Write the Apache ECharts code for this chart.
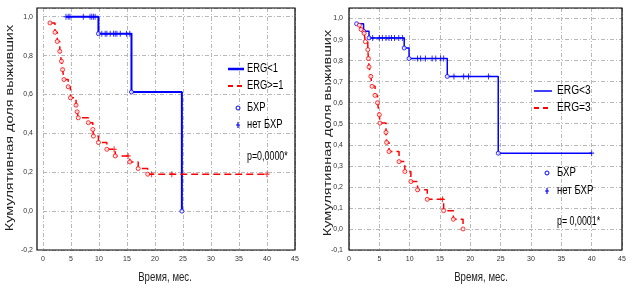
<!DOCTYPE html>
<html>
<head>
<meta charset="utf-8">
<script src="https://cdn.jsdelivr.net/npm/echarts@6/dist/echarts.min.js"></script>
<style>html,body{margin:0;padding:0;background:#fff}#c{width:631px;height:293px}</style>
</head>
<body>
<div id="c"></div>
<script>
// ---------- DATA ----------
// Left panel: ERG<1 (blue)
const leftBlueStart = [4.1, 1.0];
const leftBlueEventTimes = [9.9, 15.8, 24.8];
const leftBlueEventSurv  = [0.913, 0.613, 0.0];
const leftBlueCensTimes  = [4.1, 4.5, 4.8, 7.2, 8.4, 8.7, 9.0, 9.3, 10.5, 11.1, 11.4, 12.0, 12.6, 12.9, 13.2, 13.8, 14.9, 15.5];
const leftBlueCensSurv   = [1.0, 1.0, 1.0, 1.0, 1.0, 1.0, 1.0, 1.0, 0.913, 0.913, 0.913, 0.913, 0.913, 0.913, 0.913, 0.913, 0.913, 0.913];

// Left panel: ERG>=1 (red)
const leftRedEventTimes = [1.25, 2.14, 2.55, 3.0, 3.3, 3.5, 3.75, 4.5, 4.9, 5.9, 6.1, 6.3, 8.1, 8.9, 9.0, 9.9, 11.4, 12.9, 15.5, 17.0, 18.7];
const leftRedEventSurv  = [0.968, 0.92, 0.873, 0.822, 0.771, 0.728, 0.677, 0.64, 0.583, 0.545, 0.511, 0.48, 0.455, 0.42, 0.386, 0.353, 0.318, 0.284, 0.253, 0.219, 0.19];
const leftRedEnd = [40, 0.19];
const leftRedCensTimes = [12.7, 15.2, 19.4, 23.0, 40];
const leftRedCensSurv  = [0.318, 0.284, 0.19, 0.19, 0.19];

// Right panel: ERG<3 (blue)
const rightBlueEventTimes = [1.26, 2.4, 3.3, 9.1, 9.9, 16.2, 24.6];
const rightBlueEventSurv  = [0.975, 0.94, 0.908, 0.86, 0.81, 0.725, 0.36];
const rightBlueEnd = [40, 0.36];
const rightBlueCensTimes = [3.9, 5.0, 5.5, 6.1, 6.6, 7.0, 7.5, 8.2, 8.8, 11.3, 11.8, 12.6, 13.7, 14.3, 15.1, 15.6, 17.3, 18.9, 19.7, 23.0, 40];
const rightBlueCensSurv  = [0.908, 0.908, 0.908, 0.908, 0.908, 0.908, 0.908, 0.908, 0.908, 0.81, 0.81, 0.81, 0.81, 0.81, 0.81, 0.81, 0.725, 0.725, 0.725, 0.725, 0.36];

// Right panel: ERG=3 (red)
const rightRedEventTimes = [1.7, 2.0, 2.5, 2.7, 3.1, 3.2, 3.3, 3.6, 3.8, 4.3, 4.7, 5.0, 5.1, 6.1, 6.2, 6.6, 8.25, 9.2, 10.2, 11.3, 12.9, 15.6, 17.2, 18.8];
const rightRedEventSurv  = [0.968, 0.948, 0.93, 0.89, 0.852, 0.81, 0.77, 0.725, 0.678, 0.635, 0.6, 0.543, 0.503, 0.459, 0.411, 0.368, 0.32, 0.273, 0.225, 0.186, 0.141, 0.087, 0.046, 0.0];
const rightRedCensTimes = [15.4];
const rightRedCensSurv  = [0.141];

const legendLeft  = ['ERG<1', 'ERG>=1', 'БХР', 'нет БХР'];
const legendRight = ['ERG<3', 'ERG=3', 'БХР', 'нет БХР'];
const pLeft = 'p=0,0000*';
const pRight = 'p= 0,0001*';
const yTitle = 'Кумулятивная доля выживших';
const xTitle = 'Время, мес.';

// ---------- BUILD ----------
const zip = (a, b) => a.map((v, i) => [v, b[i]]);
const BLUE = '#0000ff', RED = '#ff0000';
const PLUS = 'path://M4,0H6V4H10V6H6V10H4V6H0V4H4Z';
const comma = v => v.toFixed(1).replace('.', ',');

function gridAxes(idx, left, width, xmin, ymin, ymax, yint) {
  return {
    grid: {left: left, top: 8, width: width, height: 242, show: false},
    x: {
      gridIndex: idx, type: 'value', min: xmin, max: 45, interval: 5,
      axisLine: {show: false}, axisTick: {show: false},
      axisLabel: {fontSize: 7, color: '#333', fontFamily: 'Liberation Sans', margin: 6,
        showMaxLabel: true, showMinLabel: true},
      splitLine: {show: true, lineStyle: {color: '#b8b8b8', width: 1, type: [4, 2, 1, 2]}}
    },
    y: {
      gridIndex: idx, type: 'value', min: ymin, max: ymax, interval: yint,
      axisLine: {show: false}, axisTick: {show: false},
      axisLabel: {fontSize: 7, color: '#333', fontFamily: 'Liberation Sans', formatter: comma,
        margin: idx === 0 ? 10 : 6, showMaxLabel: false},
      splitLine: {show: true, lineStyle: {color: '#b8b8b8', width: 1, type: [4, 2, 1, 2]}}
    }
  };
}
const gL = gridAxes(0, 43, 252, 0, -0.2, 1.045, 0.2);
const gR = gridAxes(1, 349, 273, 0, -0.1, 1.05, 0.1);

function stepLine(idx, data, color, width, dash) {
  return {type: 'line', xAxisIndex: idx, yAxisIndex: idx, step: 'end', data: data,
    showSymbol: false, symbol: 'none', animation: false, z: 3,
    lineStyle: {color: color, width: width, type: dash || 'solid'}};
}
function events(idx, data, color) {
  return {type: 'scatter', xAxisIndex: idx, yAxisIndex: idx, data: data, symbol: 'circle',
    symbolSize: 4, animation: false, z: 4,
    itemStyle: {color: '#fff', borderColor: color, borderWidth: 1}};
}
function cens(idx, data, color) {
  return {type: 'scatter', xAxisIndex: idx, yAxisIndex: idx, data: data, symbol: PLUS,
    symbolSize: [5, 6], animation: false, z: 4, itemStyle: {color: color}};
}

const series = [
  stepLine(0, [leftBlueStart].concat(zip(leftBlueEventTimes, leftBlueEventSurv)), BLUE, 2),
  stepLine(0, zip(leftRedEventTimes, leftRedEventSurv).concat([leftRedEnd]), RED, 1.5, [7, 4]),
  events(0, zip(leftBlueEventTimes, leftBlueEventSurv), BLUE),
  events(0, zip(leftRedEventTimes, leftRedEventSurv), RED),
  cens(0, zip(leftBlueCensTimes, leftBlueCensSurv), BLUE),
  cens(0, zip(leftRedCensTimes, leftRedCensSurv), RED),
  stepLine(1, zip(rightBlueEventTimes, rightBlueEventSurv).concat([rightBlueEnd]), BLUE, 1.5),
  stepLine(1, zip(rightRedEventTimes, rightRedEventSurv), RED, 1.5, [7, 4]),
  events(1, zip(rightBlueEventTimes, rightBlueEventSurv), BLUE),
  events(1, zip(rightRedEventTimes, rightRedEventSurv), RED),
  cens(1, zip(rightBlueCensTimes, rightBlueCensSurv), BLUE),
  cens(1, zip(rightRedCensTimes, rightRedCensSurv), RED)
];

const FONT = 'Liberation Sans';
function txt(x, y, s, size, sx, rot, align, color) {
  return {type: 'text', x: x, y: y, rotation: rot || 0, scaleX: sx || 1, z: 50,
    style: {text: s, fontSize: size, fontFamily: FONT, fill: color || '#000',
      align: align || 'left', verticalAlign: 'middle'}};
}
function ln(x1, y1, x2, y2, color, w, dash) {
  return {type: 'line', z: 50, shape: {x1: x1, y1: y1, x2: x2, y2: y2},
    style: {stroke: color, lineWidth: w, lineDash: dash || null}};
}
function frame(x, y, w, h) {
  return {type: 'rect', z: 40, shape: {x: x, y: y, width: w, height: h},
    style: {fill: null, stroke: '#000', lineWidth: 1.2}};
}
function plusMark(cx, cy) {
  return {type: 'polygon', z: 50, shape: {points: [
    [cx - 0.6, cy - 3], [cx + 0.6, cy - 3], [cx + 0.6, cy - 0.6], [cx + 2, cy - 0.6], [cx + 2, cy + 0.6],
    [cx + 0.6, cy + 0.6], [cx + 0.6, cy + 3], [cx - 0.6, cy + 3], [cx - 0.6, cy + 0.6], [cx - 2, cy + 0.6],
    [cx - 2, cy - 0.6], [cx - 0.6, cy - 0.6]]}, style: {fill: BLUE}};
}
const graphics = [
  frame(37, 8, 258, 242),
  frame(349, 8, 273, 242),
  // left legend
  ln(228, 69, 244, 69, BLUE, 2.5),
  txt(247, 69, legendLeft[0], 12, 0.78),
  ln(228, 86, 245, 86, RED, 2, [5, 4]),
  txt(247, 86, legendLeft[1], 12, 0.78),
  {type: 'circle', z: 50, shape: {cx: 238, cy: 108, r: 2}, style: {fill: '#fff', stroke: BLUE, lineWidth: 1}},
  txt(247, 108, legendLeft[2], 12, 0.78),
  plusMark(238, 125),
  txt(247, 125, legendLeft[3], 12, 0.78),
  txt(247, 157, pLeft, 12, 0.74),
  // right legend
  ln(534, 91, 552, 91, BLUE, 1.5),
  txt(557, 91, legendRight[0], 12, 0.85),
  ln(534, 108, 552, 108, RED, 2, [5, 4]),
  txt(557, 108, legendRight[1], 12, 0.85),
  {type: 'circle', z: 50, shape: {cx: 547, cy: 173, r: 2}, style: {fill: '#fff', stroke: BLUE, lineWidth: 1}},
  txt(557, 173, legendRight[2], 12, 0.8),
  plusMark(547, 191),
  txt(557, 191, legendRight[3], 12, 0.8),
  txt(557, 222, pRight, 12, 0.74),
  // axis titles
  txt(10, 128, yTitle, 10.5, 1.38, Math.PI / 2, 'center', '#222'),
  txt(328, 133, yTitle, 10.5, 1.38, Math.PI / 2, 'center', '#222'),
  txt(165, 278, xTitle, 12, 0.8, 0, 'center', '#222'),
  txt(481, 278, xTitle, 12, 0.8, 0, 'center', '#222')
];

const chart = echarts.init(document.getElementById('c'), null, {renderer: 'canvas'});
chart.setOption({
  animation: false,
  backgroundColor: '#fff',
  grid: [gL.grid, gR.grid],
  xAxis: [gL.x, gR.x],
  yAxis: [gL.y, gR.y],
  series: series,
  graphic: graphics
});
</script>
</body>
</html>
